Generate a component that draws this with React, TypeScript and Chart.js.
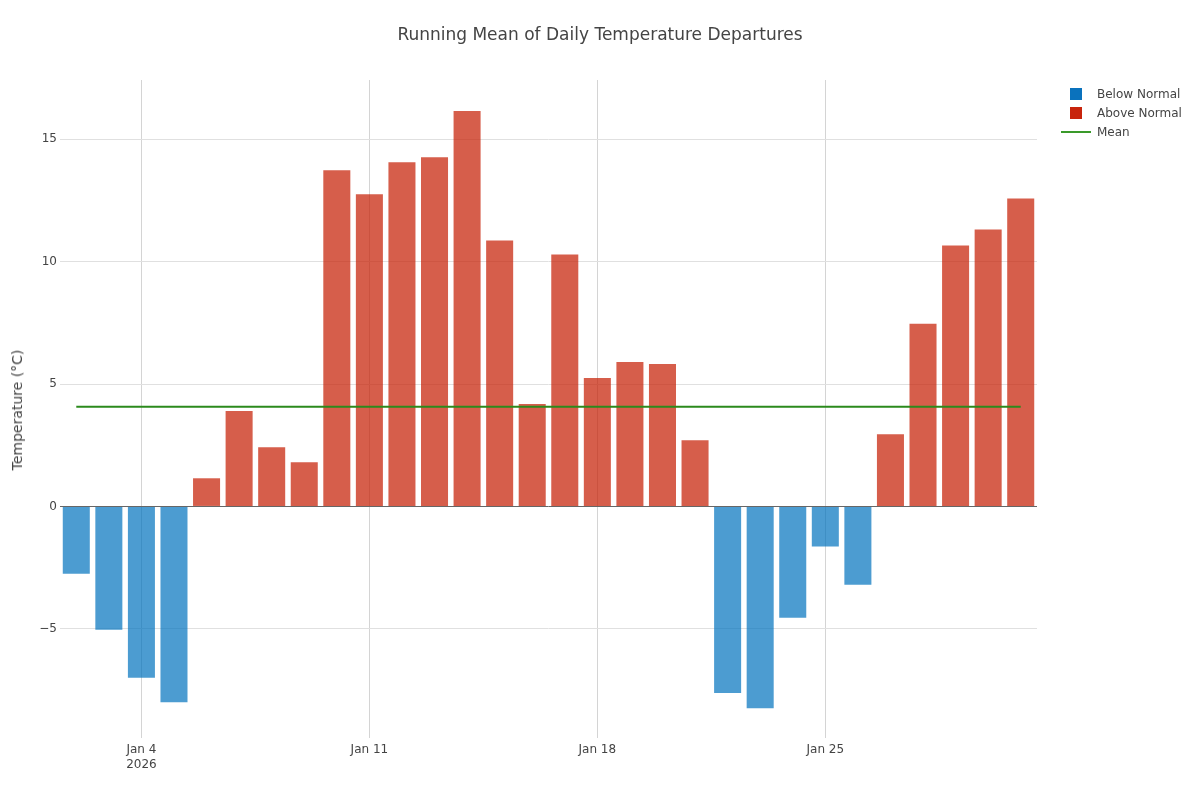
import React, { useEffect, useRef } from 'react';
import { Chart, registerables } from 'chart.js';

Chart.register(...registerables);

const days = [2, 3, 4, 5, 6, 7, 8, 9, 10, 11, 12, 13, 14, 15, 16, 17, 18, 19, 20, 21, 22, 23, 24, 25, 26, 27, 28, 29, 30, 31];
const departures = [
  -2.75, -5.04, -7.0, -8.0, 1.15, 3.9, 2.42, 1.8, 13.73, 12.75,
  14.06, 14.26, 16.15, 10.86, 4.18, 10.29, 5.25, 5.9, 5.82, 2.7,
  -7.62, -8.24, -4.55, -1.64, -3.2, 2.95, 7.46, 10.66, 11.31, 12.58,
];
const tickDays = [4, 11, 18, 25];
const tickLabels: (string | string[])[] = [['Jan 4', '2026'], 'Jan 11', 'Jan 18', 'Jan 25'];
const yTickValues = [-5, 0, 5, 10, 15];

const FONT = '"DejaVu Sans", Verdana, sans-serif';

export default function App() {
  const ref = useRef<HTMLCanvasElement>(null);

  useEffect(() => {
    const labels = days.map((d) => `Jan ${d}`);
    const mean = departures.reduce((a, b) => a + b, 0) / departures.length;
    const below = departures.map((v) => (v < 0 ? v : null));
    const above = departures.map((v) => (v >= 0 ? v : null));

    const chart = new Chart(ref.current as HTMLCanvasElement, {
      type: 'bar',
      data: {
        labels,
        datasets: [
          {
            type: 'bar',
            label: 'Below Normal',
            data: below,
            backgroundColor: 'rgba(0,114,189,0.7)',
            grouped: false,
            barPercentage: 0.83,
            categoryPercentage: 1,
            order: 2,
          } as any,
          {
            type: 'bar',
            label: 'Above Normal',
            data: above,
            backgroundColor: 'rgba(198,32,6,0.72)',
            grouped: false,
            barPercentage: 0.83,
            categoryPercentage: 1,
            order: 2,
          } as any,
          {
            type: 'line',
            label: 'Mean',
            data: departures.map(() => mean),
            borderColor: '#2b8a1c',
            borderWidth: 2,
            pointRadius: 0,
            fill: false,
            order: 0,
          } as any,
        ],
      },
      options: {
        animation: false,
        responsive: false,
        maintainAspectRatio: false,
        layout: { padding: { top: 80, right: 163, left: 0, bottom: 0 } },
        plugins: {
          legend: { display: false },
          title: { display: false },
          tooltip: { enabled: false },
        },
        scales: {
          x: {
            offset: true,
            grid: { offset: false, color: '#d4d4d4', drawTicks: false },
            border: { display: false },
            ticks: {
              autoSkip: false,
              maxRotation: 0,
              color: '#444',
              font: { family: FONT, size: 12 },
              padding: 5,
              callback: (value: any) => {
                const idx = tickDays.indexOf(days[Number(value)]);
                return idx >= 0 ? tickLabels[idx] : '';
              },
            },
            afterBuildTicks: (s: any) => {
              s.ticks = s.ticks.filter((t: any) => tickDays.includes(days[t.value]));
            },
            afterFit: (s: any) => {
              s.height = 62;
            },
          } as any,
          y: {
            min: -9.46,
            max: 17.42,
            afterBuildTicks: (s: any) => {
              s.ticks = yTickValues.map((v) => ({ value: v }));
            },
            grid: {
              color: (ctx: any) => (ctx.tick && ctx.tick.value === 0 ? '#666666' : '#e0e0e0'),
              drawTicks: false,
            },
            border: { display: false },
            ticks: {
              color: '#444',
              font: { family: FONT, size: 12 },
              padding: 3,
              callback: (v: any) => (Number(v) < 0 ? '\u2212' + Math.abs(Number(v)) : String(v)),
            },
            afterFit: (s: any) => {
              s.width = 60;
            },
          } as any,
        },
      },
    });
    return () => chart.destroy();
  }, []);

  const legendText: React.CSSProperties = {
    position: 'absolute',
    left: 1097,
    fontFamily: FONT,
    fontSize: 12,
    color: '#444',
    lineHeight: '14px',
    whiteSpace: 'nowrap',
  };

  return (
    <div style={{ position: 'absolute', left: 0, top: 0, width: 1200, height: 800, background: '#fff' }}>
      <canvas ref={ref} width={1200} height={800} style={{ position: 'absolute', left: 0, top: 0, width: 1200, height: 800 }} />
      <div
        style={{
          position: 'absolute',
          left: 0,
          top: 23,
          width: 1200,
          textAlign: 'center',
          fontFamily: FONT,
          fontSize: 17,
          color: '#444',
          lineHeight: '22px',
        }}
      >
        Running Mean of Daily Temperature Departures
      </div>
      <div
        style={{
          position: 'absolute',
          left: 17,
          top: 410,
          transform: 'translate(-50%, -50%) rotate(-90deg)',
          fontFamily: FONT,
          fontSize: 14,
          color: '#444',
          whiteSpace: 'nowrap',
        }}
      >
        Temperature (°C)
      </div>
      <div style={{ position: 'absolute', left: 1070, top: 88, width: 12, height: 12, background: '#0a72bd' }} />
      <div style={{ ...legendText, top: 87 }}>Below Normal</div>
      <div style={{ position: 'absolute', left: 1070, top: 107, width: 12, height: 12, background: '#c8240c' }} />
      <div style={{ ...legendText, top: 106 }}>Above Normal</div>
      <div style={{ position: 'absolute', left: 1061, top: 131, width: 30, height: 2, background: '#3a9a2a' }} />
      <div style={{ ...legendText, top: 125 }}>Mean</div>
    </div>
  );
}
